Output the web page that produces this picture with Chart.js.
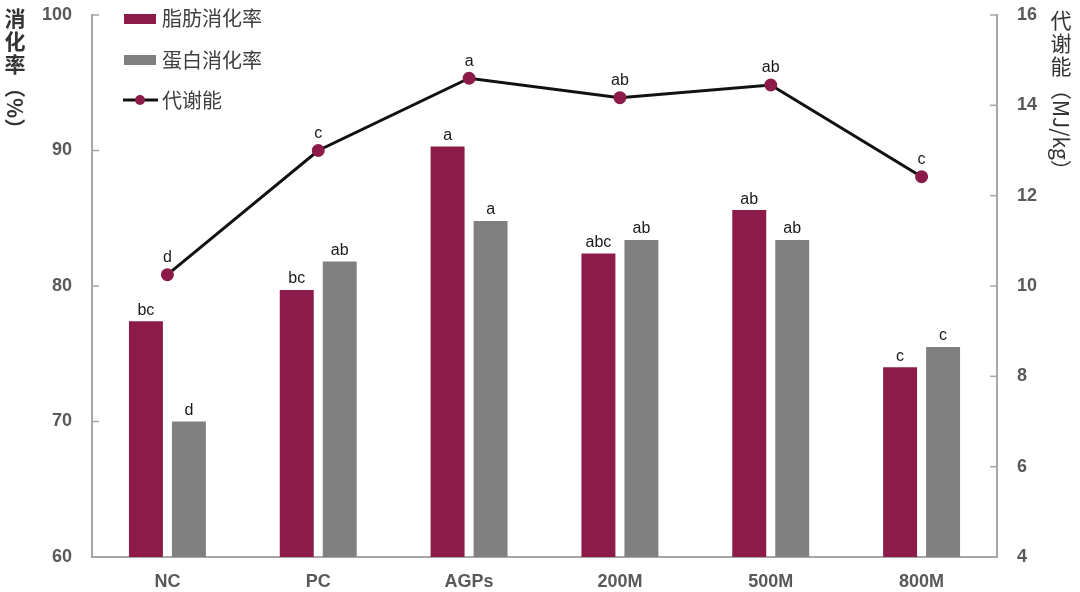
<!DOCTYPE html>
<html>
<head>
<meta charset="utf-8">
<script src="https://cdn.jsdelivr.net/npm/chart.js@4"></script>
<style>html,body{margin:0;padding:0;background:#fff}</style>
</head>
<body>
<canvas id="grafico" width="1080" height="592"></canvas>
<script>
// datos
const categorias = ['NC', 'PC', 'AGPs', '200M', '500M', '800M'];
const grasa = [77.4, 79.7, 90.3, 82.4, 85.6, 74.0];
const proteina = [70.0, 81.8, 84.8, 83.4, 83.4, 75.5];
const energia = [10.25, 13.0, 14.6, 14.17, 14.45, 12.42];
const letrasGrasa = ['bc', 'bc', 'a', 'abc', 'ab', 'c'];
const letrasProteina = ['d', 'ab', 'a', 'ab', 'ab', 'c'];
const letrasEnergia = ['d', 'c', 'a', 'ab', 'ab', 'c'];
const ticksIzq = [60, 70, 80, 90, 100];
const ticksDer = [4, 6, 8, 10, 12, 14, 16];
const nombres = ['脂肪消化率', '蛋白消化率', '代谢能'];

const ROJO = '#8c1b49';
const GRIS = '#808080';
const EJE = '#a6a6a6';
const TICK = '#595959';
const CJK = '"Noto Sans CJK SC", "Liberation Sans", sans-serif';

// marcas cortas hacia dentro + letras de significancia
const extras = {
    id: 'extras',
    afterDatasetsDraw(chart) {
        const ctx = chart.ctx;
        const a = chart.chartArea;
        ctx.save();
        ctx.strokeStyle = EJE;
        ctx.lineWidth = 1.5;
        ticksIzq.forEach(v => {
            const y = chart.scales.y.getPixelForValue(v);
            ctx.beginPath(); ctx.moveTo(a.left, y); ctx.lineTo(a.left + 7, y); ctx.stroke();
        });
        ticksDer.forEach(v => {
            const y = chart.scales.y1.getPixelForValue(v);
            ctx.beginPath(); ctx.moveTo(a.right, y); ctx.lineTo(a.right - 7, y); ctx.stroke();
        });

        ctx.fillStyle = '#1a1a1a';
        ctx.font = '16px "Liberation Sans", Arial, sans-serif';
        ctx.textAlign = 'center';
        ctx.textBaseline = 'bottom';
        [letrasGrasa, letrasProteina].forEach((letras, i) => {
            chart.getDatasetMeta(i).data.forEach((bar, j) => {
                ctx.fillText(letras[j], bar.x, bar.y - 3);
            });
        });
        chart.getDatasetMeta(2).data.forEach((pt, j) => {
            ctx.fillText(letrasEnergia[j], pt.x, pt.y - 9);
        });
        ctx.restore();
    },
    afterDraw(chart) {
        const ctx = chart.ctx;
        ctx.save();
        // leyenda
        ctx.font = '20px ' + CJK;
        ctx.textBaseline = 'middle';
        ctx.textAlign = 'left';
        ctx.fillStyle = ROJO;
        ctx.fillRect(124, 14, 32, 10);
        ctx.fillStyle = GRIS;
        ctx.fillRect(124, 55, 32, 10);
        ctx.strokeStyle = '#111';
        ctx.lineWidth = 3;
        ctx.beginPath(); ctx.moveTo(123, 100); ctx.lineTo(158, 100); ctx.stroke();
        ctx.fillStyle = ROJO;
        ctx.beginPath(); ctx.arc(140, 100, 5, 0, Math.PI * 2); ctx.fill();
        ctx.fillStyle = '#404040';
        ctx.fillText(nombres[0], 162, 18);
        ctx.fillText(nombres[1], 162, 60);
        ctx.fillText(nombres[2], 162, 100);

        // títulos verticales
        vertical(ctx, [['消化率', true], ['（%）', false]], 15, 18, 'bold ');
        vertical(ctx, [['代谢能', true], ['（MJ/kg）', false]], 1061, 20, '');
        ctx.restore();
    }
};

function vertical(ctx, partes, x, y, peso) {
    ctx.font = peso + '21px ' + CJK;
    ctx.fillStyle = '#333';
    ctx.textBaseline = 'middle';
    partes.forEach(([txt, derecho]) => {
        if (derecho) {
            ctx.textAlign = 'center';
            for (const ch of txt) {
                ctx.fillText(ch, x, y);
                y += 23;
            }
        } else {
            ctx.textAlign = 'left';
            const w = ctx.measureText(txt).width;
            ctx.save();
            ctx.translate(x, y - 10);
            ctx.rotate(Math.PI / 2);
            ctx.fillText(txt, 0, 0);
            ctx.restore();
            y += w;
        }
    });
}

const fuenteTicks = { family: '"Liberation Sans", Arial, sans-serif', size: 18, weight: 'bold' };

new Chart(document.getElementById('grafico'), {
    data: {
        labels: categorias,
        datasets: [
            { type: 'bar', label: nombres[0], data: grasa, backgroundColor: ROJO, yAxisID: 'y', order: 2,
              categoryPercentage: 0.57, barPercentage: 0.79 },
            { type: 'bar', label: nombres[1], data: proteina, backgroundColor: GRIS, yAxisID: 'y', order: 2,
              categoryPercentage: 0.57, barPercentage: 0.79 },
            { type: 'line', label: nombres[2], data: energia, yAxisID: 'y1', order: 0,
              borderColor: '#111', borderWidth: 3, pointRadius: 5, pointBackgroundColor: ROJO,
              pointBorderColor: ROJO, tension: 0 }
        ]
    },
    options: {
        responsive: false,
        animation: false,
        layout: { padding: { top: 15 } },
        plugins: { legend: { display: false }, tooltip: { enabled: false } },
        scales: {
            x: {
                grid: { display: false },
                border: { display: true, color: EJE, width: 2 },
                ticks: { color: TICK, font: fuenteTicks, padding: 6 },
                afterFit: s => { s.height = 35; }
            },
            y: {
                position: 'left',
                min: 60, max: 100,
                grid: { drawOnChartArea: false, drawTicks: false },
                border: { display: true, color: EJE, width: 2 },
                ticks: { color: TICK, font: fuenteTicks, padding: 20 },
                afterBuildTicks: s => { s.ticks = ticksIzq.map(v => ({ value: v })); },
                afterFit: s => { s.width = 92; s.paddingTop = 0; s.paddingBottom = 0; }
            },
            y1: {
                position: 'right',
                min: 4, max: 16,
                grid: { drawOnChartArea: false, drawTicks: false },
                border: { display: true, color: EJE, width: 2 },
                ticks: { color: TICK, font: fuenteTicks, padding: 20 },
                afterBuildTicks: s => { s.ticks = ticksDer.map(v => ({ value: v })); },
                afterFit: s => { s.width = 83; s.paddingTop = 0; s.paddingBottom = 0; }
            }
        }
    },
    plugins: [extras]
});
</script>
</body>
</html>
